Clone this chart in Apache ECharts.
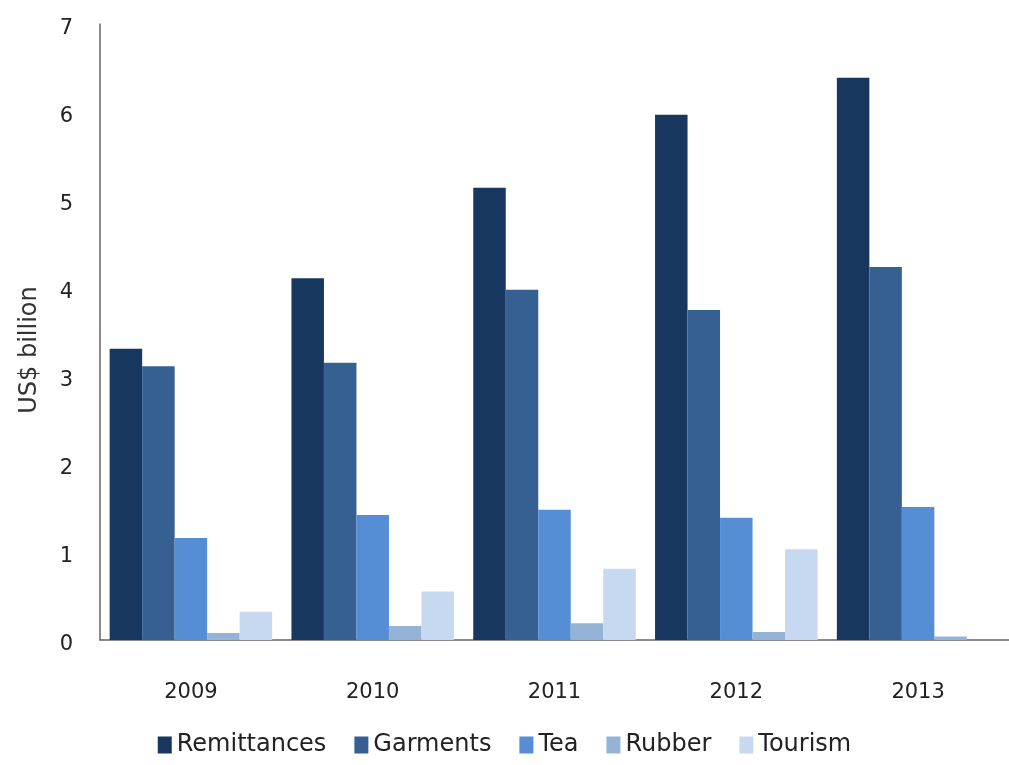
<!DOCTYPE html>
<html><head><meta charset="utf-8">
<script src="https://cdn.jsdelivr.net/npm/echarts@6/dist/echarts.min.js"></script>
<style>html,body{margin:0;padding:0;background:#fff}#c{width:1009px;height:765px}</style>
</head><body><div id="c"></div>
<script>
var categories = ['2009','2010','2011','2012','2013'];
var remittances = [3.31, 4.11, 5.14, 5.97, 6.39];
var garments    = [3.11, 3.15, 3.98, 3.75, 4.24];
var tea         = [1.16, 1.42, 1.48, 1.39, 1.51];
var rubber      = [0.08, 0.16, 0.19, 0.09, 0.04];
var tourism     = [0.32, 0.55, 0.81, 1.03, 0];
var yTicks = [0,1,2,3,4,5,6,7];

var names = ['Remittances','Garments','Tea','Rubber','Tourism'];
var colors = ['#17375E','#376092','#558ED5','#95B3D7','#C6D9F1'];
var data = [remittances, garments, tea, rubber, tourism];
var font = 'DejaVu Sans';

var chart = echarts.init(document.getElementById('c'));
chart.setOption({
  animation: false,
  textStyle: {fontFamily: font},
  grid: {left: 100, top: 24, width: 919, height: 616, containLabel: false},
  legend: {
    bottom: 3, left: 'center', itemWidth: 14, itemHeight: 17, itemGap: 28,
    icon: 'rect',
    textStyle: {fontSize: 24, color: '#222', fontFamily: font},
    data: names
  },
  xAxis: {
    type: 'category', data: categories,
    axisLine: {lineStyle: {color: '#666', width: 1.5}},
    axisTick: {show: false},
    axisLabel: {fontSize: 21, color: '#222', margin: 42}
  },
  yAxis: {
    type: 'value', min: 0, max: 7, interval: 1,
    name: 'US$ billion', nameLocation: 'middle', nameGap: 58, nameRotate: 90,
    nameTextStyle: {fontSize: 24, color: '#333', fontFamily: font, padding: [0, 36, 0, 0]},
    axisLine: {show: true, lineStyle: {color: '#666', width: 1.5}},
    axisTick: {show: false},
    splitLine: {show: false},
    axisLabel: {fontSize: 21, color: '#222', margin: 27, verticalAlign: 'top', lineHeight: 10,
      formatter: function(v){ return yTicks.indexOf(v) >= 0 ? String(v) : ''; }}
  },
  series: names.map(function(n, i){
    return {name: n, type: 'bar', data: data[i], barWidth: 32.5, barGap: '0%',
      itemStyle: {color: colors[i]}};
  })
});
</script></body></html>
